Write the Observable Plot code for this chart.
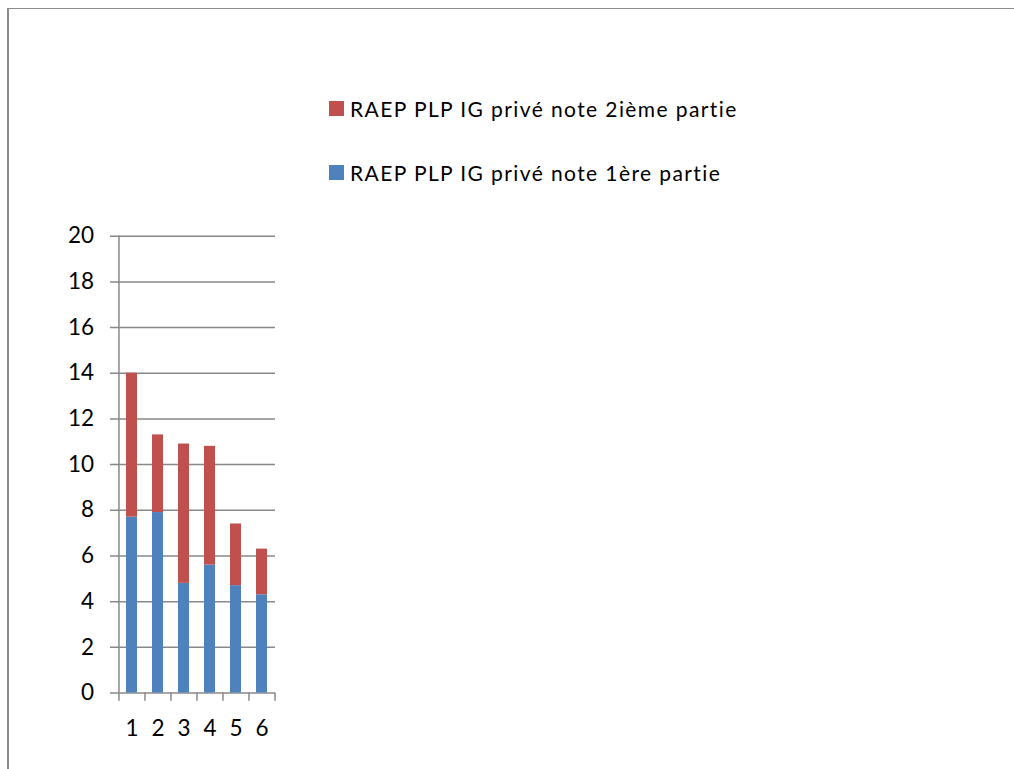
<!DOCTYPE html>
<html>
<head>
<meta charset="utf-8">
<script src="https://cdn.jsdelivr.net/npm/d3@7"></script>
<script src="https://cdn.jsdelivr.net/npm/@observablehq/plot@0.6"></script>
<style>
  html, body { margin: 0; padding: 0; background: #fff; }
  #wrap { position: relative; width: 1014px; height: 769px; overflow: hidden; font-family: Lato, "Open Sans", sans-serif; }
  #frame { position: absolute; left: 7px; top: 8px; width: 1020px; height: 800px; border-left: 2px solid #8c8c8c; border-top: 1.5px solid #8c8c8c; box-sizing: border-box; }
  .leg { position: absolute; left: 329px; display: flex; align-items: center; font-size: 21px; letter-spacing: 1.4px; color: #000; white-space: nowrap; }
  .leg .sw { width: 15px; height: 15px; margin-right: 6px; }
  #chart { position: absolute; left: 0; top: 0; }
</style>
</head>
<body>
<div id="wrap">
  <div id="frame"></div>
  <div id="chart"></div>
  <div id="legend"></div>
</div>
<script>
const categories = ["1", "2", "3", "4", "5", "6"];
const part1 = [7.7, 7.9, 4.8, 5.6, 4.7, 4.3];
const part2 = [6.3, 3.4, 6.1, 5.2, 2.7, 2.0];
const seriesNames = ["RAEP PLP IG privé note 1ère partie", "RAEP PLP IG privé note 2ième partie"];
const seriesColors = ["#4F81BD", "#C0504D"];
const yTicks = [0, 2, 4, 6, 8, 10, 12, 14, 16, 18, 20];

const data = [];
categories.forEach((c, i) => {
  data.push({cat: c, series: seriesNames[0], value: part1[i]});
  data.push({cat: c, series: seriesNames[1], value: part2[i]});
});

const W = 1014, H = 769;
const mL = 118.5, mR = W - 275, mT = 235.7, mB = H - 692.5;
const bw = (275 - mL) / categories.length;
const axisStroke = {stroke: "#888", strokeWidth: 1.5};

const chart = Plot.plot({
  width: W, height: H,
  marginLeft: mL, marginRight: mR, marginTop: mT, marginBottom: mB,
  style: {fontFamily: "Lato, 'Open Sans', sans-serif", fontSize: "22.5px", color: "#000", background: "transparent", overflow: "visible"},
  x: {domain: categories, paddingInner: 0.59, paddingOuter: 0.295, align: 0.5, label: null},
  y: {domain: [0, 20], ticks: yTicks, label: null},
  color: {domain: seriesNames, range: seriesColors},
  marks: [
    Plot.ruleY(yTicks, {y: d => d, ...axisStroke, insetLeft: -8.5}),
    Plot.barY(data, {x: "cat", y: "value", fill: "series", order: seriesNames}),
    // vertical y-axis line at the left edge of the first band
    Plot.ruleX([categories[0]], {x: d => d, dx: -bw / 2, y1: 0, y2: 20, ...axisStroke}),
    // x ticks at the category boundaries
    Plot.ruleX(categories, {x: d => d, dx: -bw / 2, y1: 0, y2: 0, insetBottom: -8.2, ...axisStroke}),
    Plot.ruleX([categories[categories.length - 1]], {x: d => d, dx: bw / 2, y1: 0, y2: 0, insetBottom: -8.2, ...axisStroke}),
    Plot.axisY({ticks: yTicks, tickSize: 0, tickPadding: 25, fontSize: 22.5}),
    Plot.axisX({tickSize: 0, tickPadding: 27, fontSize: 22.5})
  ]
});
document.getElementById("chart").appendChild(chart);

const legend = document.getElementById("legend");
const legendItems = [{name: seriesNames[1], color: seriesColors[1], top: 96}, {name: seriesNames[0], color: seriesColors[0], top: 160}];
legendItems.forEach(it => {
  const row = document.createElement("div");
  row.className = "leg";
  row.style.top = it.top + "px";
  const sw = document.createElement("div");
  sw.className = "sw";
  sw.style.background = it.color;
  const tx = document.createElement("span");
  tx.textContent = it.name;
  row.appendChild(sw);
  row.appendChild(tx);
  legend.appendChild(row);
});
</script>
</body>
</html>
